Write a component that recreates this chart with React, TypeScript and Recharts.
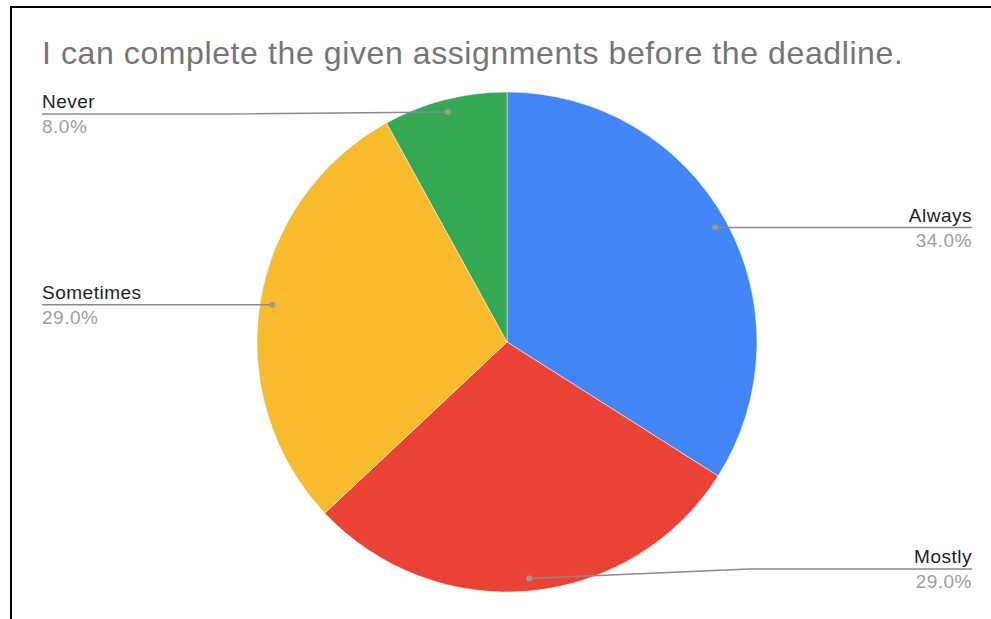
import { PieChart, Pie, Cell } from "recharts"

const categories = ["Always", "Mostly", "Sometimes", "Never"]
const shares = [34, 29, 29, 8]
const colors = ["#4285F4", "#EA4335", "#F9BB2E", "#34A853"]

const data = categories.map((name, i) => ({ name, value: shares[i] }))

const RAD = Math.PI / 180
const LEFT_X = 42
const RIGHT_X = 972
const FONT = "Liberation Sans, Arial, sans-serif"

const renderLabel = (props: any) => {
  const { cx, cy, midAngle, outerRadius, name, percent } = props
  const r = outerRadius * 0.95
  const dx = cx + r * Math.cos(-midAngle * RAD)
  const dy = cy + r * Math.sin(-midAngle * RAD)
  const right = dx > cx
  const endX = right ? RIGHT_X : LEFT_X
  // keep the bottom label inside the frame
  const lineY = Math.min(Math.max(dy, 114), 569)
  const bendX = right ? Math.min(dx + 220, endX) : Math.max(dx - 220, endX)
  const anchor = right ? "end" : "start"
  return (
    <g key={name}>
      <path
        d={`M${dx},${dy} L${bendX},${lineY} L${endX},${lineY}`}
        stroke="#8a8a8a"
        strokeWidth={1.5}
        fill="none"
      />
      <circle cx={dx} cy={dy} r={3} fill="#9a9a9a" />
      <text x={endX} y={lineY - 6} textAnchor={anchor} fontSize={19} letterSpacing={0.5} fill="#222" fontFamily={FONT}>
        {name}
      </text>
      <text x={endX} y={lineY + 19} textAnchor={anchor} fontSize={19} letterSpacing={0.5} fill="#9e9e9e" fontFamily={FONT}>
        {`${(percent * 100).toFixed(1)}%`}
      </text>
    </g>
  )
}

export default function App() {
  return (
    <div
      style={{
        position: "fixed",
        left: 0,
        top: 0,
        width: 991,
        height: 619,
        background: "#fff",
        overflow: "hidden",
      }}
    >
      <div
        style={{
          position: "absolute",
          left: 10,
          top: 6,
          width: 1100,
          height: 800,
          border: "2px solid #000",
        }}
      />
      <div
        style={{
          position: "absolute",
          left: 42,
          top: 37,
          fontFamily: FONT,
          fontSize: 32,
          lineHeight: 1,
          letterSpacing: 0.6,
          color: "#757575",
          whiteSpace: "nowrap",
        }}
      >
        I can complete the given assignments before the deadline.
      </div>
      <div style={{ position: "absolute", left: 0, top: 0 }}>
        <PieChart width={991} height={619} margin={{ top: 0, right: 0, bottom: 0, left: 0 }}>
          <Pie
            data={data}
            dataKey="value"
            nameKey="name"
            cx={507}
            cy={342}
            outerRadius={250}
            startAngle={90}
            endAngle={-270}
            stroke="#fff"
            strokeWidth={0.5}
            label={renderLabel}
            labelLine={false}
            isAnimationActive={false}
          >
            {data.map((entry, index) => (
              <Cell key={`cell-${index}`} fill={colors[index]} />
            ))}
          </Pie>
        </PieChart>
      </div>
    </div>
  )
}
